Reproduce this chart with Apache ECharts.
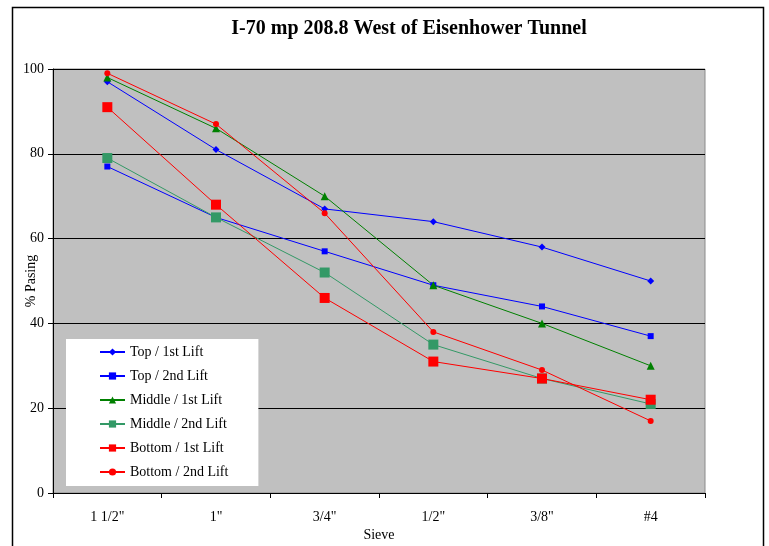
<!DOCTYPE html>
<html>
<head>
<meta charset="utf-8">
<script src="https://cdn.jsdelivr.net/npm/echarts@6/dist/echarts.min.js"></script>
<style>
  html, body { margin: 0; padding: 0; background: #fff; }
  #chart { width: 769px; height: 546px; }
</style>
</head>
<body>
<div id="chart"></div>
<script>
// sieve sizes along the x axis
const sieves = ['1 1/2"', '1"', '3/4"', '1/2"', '3/8"', '#4'];

// % passing per sample
const top1 = [97, 81, 67, 64, 58, 50];
const top2 = [77, 65, 57, 49, 44, 37];
const mid1 = [98, 86, 70, 49, 40, 30];
const mid2 = [79, 65, 52, 35, 27, 21];
const bot1 = [91, 68, 46, 31, 27, 22];
const bot2 = [99, 87, 66, 38, 29, 17];

const yTicks = [0, 20, 40, 60, 80, 100];

const serif = 'Liberation Serif, Times New Roman, serif';

const chart = echarts.init(document.getElementById('chart'));

const mkSeries = (name, data, color, symbol, size) => ({
  name: name,
  type: 'line',
  data: data,
  symbol: symbol,
  symbolSize: size,
  showSymbol: true,
  animation: false,
  lineStyle: { color: color, width: 1 },
  itemStyle: { color: color, borderWidth: 0 }
});

chart.setOption({
  backgroundColor: '#fff',
  animation: false,
  title: {
    text: 'I-70 mp 208.8 West of Eisenhower Tunnel',
    left: 404,
    textAlign: 'center',
    top: 14,
    textStyle: { fontFamily: serif, fontSize: 20, fontWeight: 'bold', color: '#000' }
  },
  graphic: [{
    type: 'rect',
    shape: { x: 12.5, y: 7.5, width: 751, height: 560 },
    style: { fill: 'none', stroke: '#000', lineWidth: 1.5 },
    silent: true
  }],
  grid: {
    left: 53, right: 64, top: 69, bottom: 53,
    containLabel: false,
    outerBoundsMode: 'none',
    show: true,
    backgroundColor: '#c0c0c0',
    borderColor: '#8a8a8a',
    borderWidth: 1
  },
  legend: {
    orient: 'vertical',
    left: 66,
    top: 339,
    backgroundColor: '#fff',
    padding: [6, 30, 7, 33],
    itemWidth: 25,
    itemHeight: 9,
    itemGap: 10,
    textStyle: { fontFamily: serif, fontSize: 14, color: '#000' },
    data: ['Top / 1st Lift', 'Top / 2nd Lift', 'Middle / 1st Lift', 'Middle / 2nd Lift', 'Bottom / 1st Lift', 'Bottom / 2nd Lift']
  },
  xAxis: {
    type: 'category',
    data: sieves,
    boundaryGap: true,
    name: 'Sieve',
    nameLocation: 'middle',
    nameGap: 35,
    nameMoveOverlap: false,
    nameTextStyle: { fontFamily: serif, fontSize: 14, color: '#000' },
    axisLine: { show: true, lineStyle: { color: '#000', width: 1 } },
    axisTick: { show: true, length: 5, lineStyle: { color: '#000' } },
    axisLabel: { fontFamily: serif, fontSize: 14, color: '#000', margin: 17 },
    splitLine: { show: false }
  },
  yAxis: {
    type: 'value',
    min: yTicks[0],
    max: yTicks[yTicks.length - 1],
    interval: 20,
    name: '% Pasing',
    nameLocation: 'middle',
    nameGap: 15,
    nameMoveOverlap: false,
    nameTextStyle: { fontFamily: serif, fontSize: 14, color: '#000' },
    axisLine: { show: true, lineStyle: { color: '#000', width: 1 } },
    axisTick: { show: true, length: 5, lineStyle: { color: '#000' } },
    axisLabel: { fontFamily: serif, fontSize: 14, color: '#000', margin: 9 },
    splitLine: { show: true, lineStyle: { color: '#000', width: 1 } }
  },
  series: [
    mkSeries('Top / 1st Lift', top1, '#0000ff', 'diamond', 7),
    mkSeries('Top / 2nd Lift', top2, '#0000ff', 'rect', 6),
    mkSeries('Middle / 1st Lift', mid1, '#008000', 'triangle', 8),
    mkSeries('Middle / 2nd Lift', mid2, '#339966', 'rect', 10),
    mkSeries('Bottom / 1st Lift', bot1, '#ff0000', 'rect', 10),
    mkSeries('Bottom / 2nd Lift', bot2, '#ff0000', 'circle', 6)
  ]
});
</script>
</body>
</html>
